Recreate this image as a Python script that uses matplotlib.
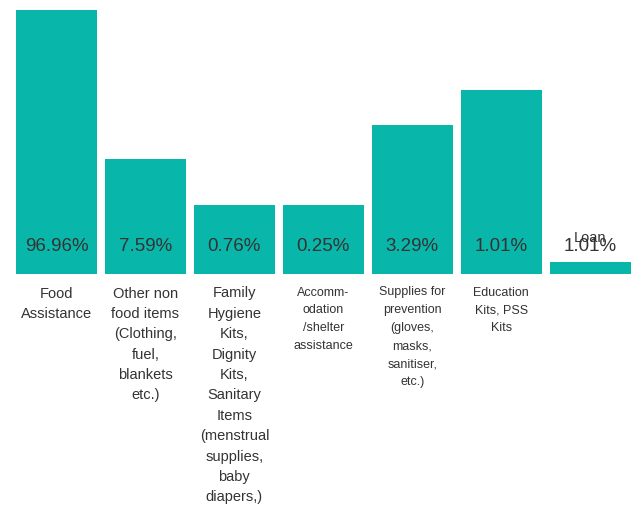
import matplotlib
matplotlib.use('Agg')
import matplotlib.pyplot as plt

plt.rcParams['font.family'] = ['Liberation Sans', 'DejaVu Sans']

# bar heights (arbitrary units) and labels shown
categories = ['Food\nAssistance',
              'Other non\nfood items\n(Clothing,\nfuel,\nblankets\netc.)',
              'Family\nHygiene\nKits,\nDignity\nKits,\nSanitary\nItems\n(menstrual\nsupplies,\nbaby\ndiapers,)',
              'Accomm-\nodation\n/shelter\nassistance',
              'Supplies for\nprevention\n(gloves,\nmasks,\nsanitiser,\netc.)',
              'Education\nKits, PSS\nKits',
              '']
heights = [264, 115, 69, 69, 149, 184, 12]
pct_labels = ['96.96%', '7.59%', '0.76%', '0.25%', '3.29%', '1.01%', '1.01%']
cat_sizes = [10.5, 10.5, 10.5, 9, 9, 9, 9]
cat_spacing = [1.58, 1.58, 1.58, 1.66, 1.66, 1.66, 1.66]

bar_color = '#09B7AA'
text_color = '#333333'

fig = plt.figure(figsize=(6.33, 5.12), dpi=100)
ax = fig.add_axes([12 / 633, 238 / 512, 621 / 633, 264 / 512])

x = range(len(heights))
ax.bar(x, heights, width=0.91, color=bar_color)
ax.set_xlim(-0.5, 6.48)
ax.set_ylim(0, 264)
ax.axis('off')

for i, (h, p) in enumerate(zip(heights, pct_labels)):
    ax.annotate(p, xy=(i, 0), xytext=(0, 19.5), textcoords='offset points',
                ha='center', va='center', fontsize=13.5, color=text_color)
    ax.annotate(categories[i], xy=(i, 0), xytext=(0, -9), textcoords='offset points',
                ha='center', va='top', fontsize=cat_sizes[i], color=text_color,
                linespacing=cat_spacing[i])

# the last bar carries its name above it
ax.annotate('Loan', xy=(6, 0), xytext=(0, 26), textcoords='offset points',
            ha='center', va='center', fontsize=10.5, color=text_color)

fig.savefig('out.png', dpi=100)
